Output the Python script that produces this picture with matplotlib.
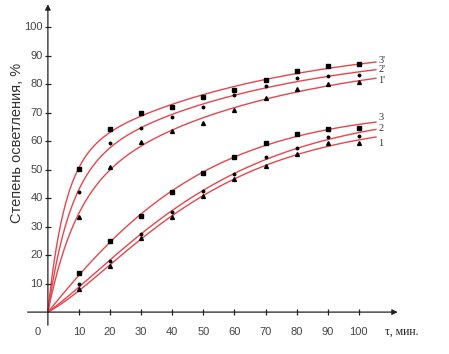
import matplotlib
matplotlib.use("Agg")
import matplotlib.pyplot as plt
import numpy as np

# time, min
t = [10, 20, 30, 40, 50, 60, 70, 80, 90, 100]
# degree of clarification, %
s3p = [50.2, 64.3, 69.7, 72.0, 75.3, 77.9, 81.4, 84.6, 86.4, 87.0]
s2p = [42.0, 59.5, 64.6, 68.5, 72.0, 76.1, 79.4, 82.2, 82.8, 83.2]
s1p = [33.5, 51.0, 59.8, 63.5, 66.5, 70.8, 75.0, 78.1, 80.2, 80.6]
s3 = [13.8, 24.8, 33.7, 42.2, 48.9, 54.3, 59.4, 62.5, 64.3, 64.7]
s2 = [9.7, 17.8, 27.4, 35.2, 42.6, 48.6, 54.5, 57.5, 61.3, 61.8]
s1 = [8.2, 16.2, 26.0, 33.2, 40.9, 46.8, 51.3, 55.5, 59.4, 59.3]
labels = ["3'", "2'", "1'", "3", "2", "1"]
xticks = [10, 20, 30, 40, 50, 60, 70, 80, 90, 100]
yticks = [10, 20, 30, 40, 50, 60, 70, 80, 90, 100]


def fit_curve(x, y, xs):
    # y = A(1 - exp(-k1 x)) + B(1 - exp(-k2 x)), saturating, through origin
    x = np.asarray(x, float)
    y = np.asarray(y, float)
    ks = np.logspace(np.log10(0.016), 0, 60)
    best = None
    for i, k1 in enumerate(ks):
        for k2 in ks[i + 1:]:
            M = np.column_stack([1 - np.exp(-k1 * x), 1 - np.exp(-k2 * x)])
            coef = np.linalg.lstsq(M, y, rcond=None)[0]
            err = np.sum((M @ coef - y) ** 2)
            if best is None or err < best[0]:
                best = (err, k1, k2, coef)
    _, k1, k2, (a, b) = best
    return a * (1 - np.exp(-k1 * xs)) + b * (1 - np.exp(-k2 * xs))


fig = plt.figure(figsize=(4.49, 3.54), dpi=100)
ax = fig.add_axes([0, 0, 1, 1])
ax.set_xlim(-15.4, 129)
ax.set_ylim(-14.7, 109.5)
ax.axis("off")

red = "#e8454c"
xs = np.linspace(0, 105.5, 300)
series = [s3p, s2p, s1p, s3, s2, s1]
markers = ["s", "o", "^", "s", "o", "^"]
msizes = [3.4, 1.8, 2.8, 3.4, 1.8, 2.8]
label_shift = [0.6, 0.0, -0.8, 1.6, 0.2, -2.4]
for ys, m, ms, lab, dy in zip(series, markers, msizes, labels, label_shift):
    yc = fit_curve(t, ys, xs)
    ax.plot(xs, yc, color=red, lw=1, zorder=2)
    ax.plot(t, ys, linestyle="none", marker=m, ms=ms, color="black", zorder=3)
    ax.text(106.3, yc[-1] + dy, lab, fontsize=7.5, family="Liberation Serif",
            ha="left", va="center", color="#333333")

# axes with arrows
ax.annotate("", xy=(112.5, 0), xytext=(-6.5, 0),
            arrowprops=dict(arrowstyle="-|>", color="#222222", lw=0.9,
                            mutation_scale=8, shrinkA=0, shrinkB=0))
ax.annotate("", xy=(0, 108), xytext=(0, -4.6),
            arrowprops=dict(arrowstyle="-|>", color="#222222", lw=0.9,
                            mutation_scale=8, shrinkA=0, shrinkB=0))

ax.plot(xticks, [0] * len(xticks), linestyle="none", marker="|", ms=5,
        color="#222222", mew=0.9)
ax.plot([0] * len(yticks), yticks, linestyle="none", marker="_", ms=5,
        color="#222222", mew=0.9)

for xv in xticks:
    ax.text(xv, -6.9, str(xv), fontsize=8, family="Liberation Sans",
            ha="center", va="center", color="#444444")
ax.text(-3.3, -6.9, "0", fontsize=8, family="Liberation Sans",
        ha="center", va="center", color="#444444")
for yv in yticks:
    ax.text(-1.6, yv, str(yv), fontsize=8, family="Liberation Sans",
            ha="right", va="center", color="#444444")

ax.text(108.3, -6.9, "τ, мин.", fontsize=8.5, family="Liberation Serif",
        ha="left", va="center", color="#222222")
ax.text(-9.8, 59.5, "Степень осветления, %", fontsize=10.5,
        family="Liberation Sans", rotation=90, ha="center", va="center",
        color="#333333")

fig.savefig("out.png", dpi=100)
